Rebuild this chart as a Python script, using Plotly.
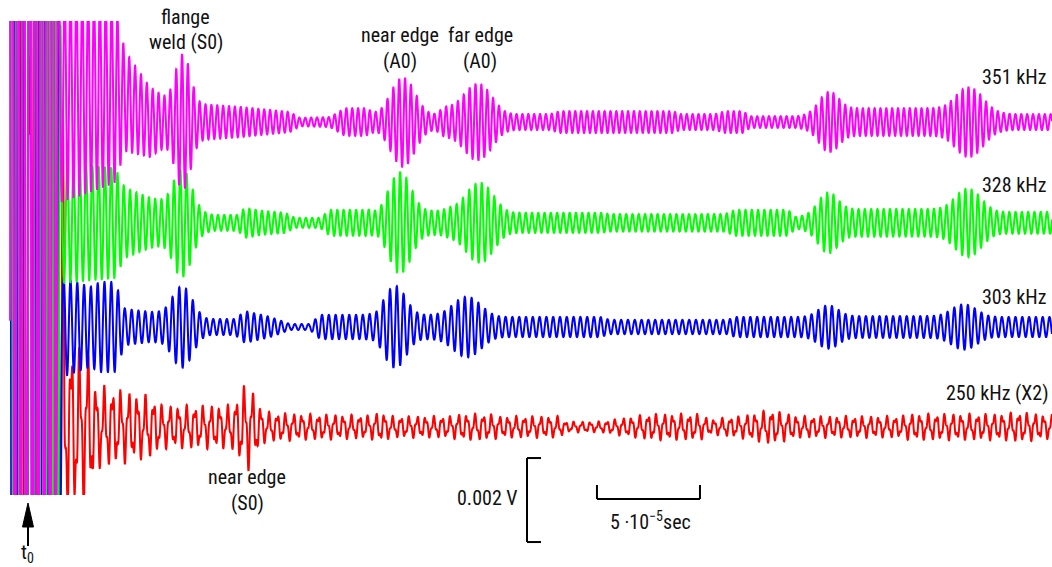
import numpy as np
import plotly.graph_objects as go

# ---------------- data (time in microseconds, amplitude in mV) ----------------
series_names = ["250 kHz (X2)", "303 kHz", "328 kHz", "351 kHz"]
series_colors = ["#ff0000", "#0000ff", "#00ff00", "#ff00ff"]
carrier_mhz = [0.250, 0.303, 0.328, 0.351]
baseline_mv = [1.62, 4.00, 6.48, 8.88]

# background envelope knots (time, amplitude)
mag_env_t = [-8.7, 13.1, 15.5, 42.2, 47.1, 59.2, 66.5, 71.4, 83.5, 102.9, 127.2, 132.0, 146.6, 153.9,
             163.6, 169.9, 190.3, 197.6, 202.4, 214.6, 230.1, 253.4, 258.3, 313.1, 316.5, 333.5,
             338.4, 347.1, 350.5, 373.3, 396.6, 442.7, 478.2, 497.1]
mag_env_a = [14.3, 14.3, 2.62, 2.14, 1.19, 0.83, 0.60, 0.52, 0.43, 0.36, 0.24, 0.10, 0.12, 0.33,
             0.33, 0.19, 0.19, 0.19, 0.36, 0.36, 0.19, 0.19, 0.26, 0.26, 0.19, 0.19,
             0.26, 0.26, 0.14, 0.14, 0.33, 0.33, 0.19, 0.19]
grn_env_t = [-8.7, 14.1, 16.5, 42.2, 47.1, 59.2, 66.5, 71.4, 85.9, 89.8, 101.9, 105.3, 112.6, 124.8,
             129.6, 141.8, 146.6, 166.0, 170.9, 190.3, 200.0, 204.9, 214.6, 231.6, 277.7, 282.5,
             338.4, 343.2, 368.9, 372.8, 395.6, 442.7, 471.8, 497.1]
grn_env_a = [14.3, 14.3, 1.43, 1.31, 0.83, 0.60, 0.52, 0.43, 0.24, 0.19, 0.19, 0.36, 0.29, 0.24,
             0.12, 0.12, 0.31, 0.31, 0.19, 0.29, 0.29, 0.36, 0.36, 0.24, 0.24, 0.21,
             0.21, 0.31, 0.31, 0.14, 0.33, 0.33, 0.26, 0.26]
blu_env_t = [-8.7, 14.1, 16.5, 30.1, 35.0, 42.2, 47.1, 59.2, 63.1, 86.9, 100.5, 105.3, 117.5, 127.2,
             136.9, 141.8, 166.0, 169.9, 188.8, 200.0, 229.1, 277.7, 282.5, 339.8, 343.2, 374.8,
             397.6, 437.9, 467.0, 497.1]
blu_env_a = [14.3, 14.3, 1.19, 0.95, 1.07, 1.07, 0.43, 0.36, 0.36, 0.19, 0.19, 0.38, 0.24, 0.07,
             0.07, 0.29, 0.29, 0.19, 0.29, 0.29, 0.24, 0.24, 0.17, 0.17, 0.24, 0.24,
             0.26, 0.26, 0.24, 0.24]
red_env_t = [-9.7, 15.5, 18.0, 30.1, 32.5, 44.7, 59.2, 65.5, 95.6, 115.1, 132.0, 166.0, 170.9, 176.7,
             204.9, 209.7, 224.3, 229.1, 258.3, 260.7, 277.7, 301.9, 326.2, 331.1, 345.6, 360.2,
             374.8, 423.3, 428.2, 471.8, 481.6, 497.1]
red_env_a = [14.3, 14.3, 1.90, 1.67, 0.95, 0.83, 0.69, 0.48, 0.48, 0.33, 0.29, 0.26, 0.33, 0.24,
             0.24, 0.29, 0.29, 0.24, 0.24, 0.12, 0.12, 0.29, 0.29, 0.17, 0.24, 0.38,
             0.24, 0.24, 0.29, 0.29, 0.33, 0.26]

# echo wave packets: (centre time, peak amplitude, width)
mag_packets = [(75.2, 1.55, 4.2), (182.0, 1.05, 6.3), (218.5, 0.86, 7.3), (389.0, 0.67, 5.5), (456.8, 0.79, 7.5)]
grn_packets = [(74.8, 1.24, 5.0), (180.6, 1.19, 6.0), (219.4, 0.90, 7.3), (388.5, 0.67, 5.5), (456.3, 0.76, 7.3)]
blu_packets = [(74.8, 0.93, 5.5), (178.2, 0.95, 6.0), (213.1, 0.67, 7.8), (388.5, 0.45, 6.0), (454.4, 0.48, 7.3)]
red_packets = [(106.3, 0.88, 4.5)]

# early baseline drift of the 351 kHz trace
mag_drift_t = [13.1, 42.2, 59.2]
mag_drift_v = [0.70, 0.70, 0.0]

env_t = [red_env_t, blu_env_t, grn_env_t, mag_env_t]
env_a = [red_env_a, blu_env_a, grn_env_a, mag_env_a]
packets = [red_packets, blu_packets, grn_packets, mag_packets]

# ---------------- geometry ----------------
W, H = 1052, 567
T_LO, T_HI = -13.59, 497.09      # time axis range (us)
V_LO, V_HI = 0.0, 11.286         # vertical range (mV)
M_TOP, M_BOT = 21, 72

def px(x, y):
    """pixel position -> paper coordinates"""
    return x / W, (H - M_BOT - y) / (H - M_TOP - M_BOT)

fig = go.Figure()
for i in range(4):
    t0 = env_t[i][0]
    t = np.arange(t0, T_HI + 0.05, 0.05)
    bg = np.interp(t, env_t[i], env_a[i])
    pk = np.zeros_like(t)
    for c, a, s in packets[i]:
        pk += (a * np.exp(-0.5 * ((t - c) / s) ** 2)) ** 2
    env = np.sqrt(bg ** 2 + pk)
    w = 2 * np.pi * carrier_mhz[i]
    if i == 0:
        wave = 0.8 * np.sin(w * t) + 0.3 * np.sin(2.6 * w * t + 1.0)
    else:
        wave = np.sin(w * t)
    y = baseline_mv[i] + env * wave
    if i == 3:
        y = y + np.interp(t, mag_drift_t, mag_drift_v, left=0, right=0)
    fig.add_trace(go.Scatter(x=t, y=y, mode="lines", name=series_names[i],
                             line=dict(color=series_colors[i], width=2, simplify=False),
                             hoverinfo="skip", showlegend=False))

FONT = dict(family="Liberation Sans Narrow, Arial Narrow, Roboto Condensed, sans-serif", size=20, color="#111111")
ann = []
def label(text, x, y, xanchor="center"):
    xp, yp = px(x, y)
    ann.append(dict(text=text, x=xp, y=yp, xref="paper", yref="paper", xanchor=xanchor,
                    yanchor="middle", showarrow=False, font=FONT))

label("flange", 185, 17)
label("weld (S0)", 186, 42)
label("near edge", 400, 35)
label("(A0)", 400, 61)
label("far edge", 480, 35)
label("(A0)", 480, 61)
label(series_names[3], 1048, 77, "right")
label(series_names[2], 1048, 185, "right")
label(series_names[1], 1048, 297, "right")
label(series_names[0], 1051, 393, "right")
label("near edge", 247, 477)
label("(S0)", 247, 503)
label("0.002 V", 520, 498, "right")
label("5 \u00b710<sup>\u22125</sup>sec", 650, 521)
label("t<sub>0</sub>", 27, 553)

shapes = []
def seg(x0, y0, x1, y1):
    a, b = px(x0, y0)
    c, d = px(x1, y1)
    shapes.append(dict(type="line", xref="paper", yref="paper", x0=a, y0=b, x1=c, y1=d,
                       line=dict(color="black", width=2)))

# voltage scale bar: 2 mV
def vpx(v):
    return (H - M_BOT) - (v - V_LO) / (V_HI - V_LO) * (H - M_TOP - M_BOT)
def tpx(tt):
    return (tt - T_LO) / (T_HI - T_LO) * W
vb0, vb1 = vpx(0.88), vpx(0.88 - 2.0)
seg(527, vb0, 527, vb1)
seg(527, vb0, 541, vb0)
seg(527, vb1, 541, vb1)
# time scale bar: 50 us
tb0, tb1 = tpx(276.2), tpx(276.2 + 50.0)
seg(tb0, 499, tb1, 499)
seg(tb0, 499, tb0, 485)
seg(tb1, 499, tb1, 485)
# t0 arrow
seg(28, 525, 28, 546)
p1, p2, p3 = px(22.5, 527), px(33.5, 527), px(28, 503)
shapes.append(dict(type="path", xref="paper", yref="paper",
                   path=f"M {p1[0]} {p1[1]} L {p2[0]} {p2[1]} L {p3[0]} {p3[1]} Z",
                   fillcolor="black", line=dict(color="black", width=1)))

fig.update_layout(
    width=W, height=H,
    margin=dict(l=0, r=0, t=M_TOP, b=M_BOT),
    paper_bgcolor="white", plot_bgcolor="white",
    xaxis=dict(range=[T_LO, T_HI], visible=False),
    yaxis=dict(range=[V_LO, V_HI], visible=False),
    annotations=ann, shapes=shapes,
)
fig.write_html("out.html", config={"displayModeBar": False},
               post_script="document.body.style.margin='0';document.body.style.overflow='hidden';")
